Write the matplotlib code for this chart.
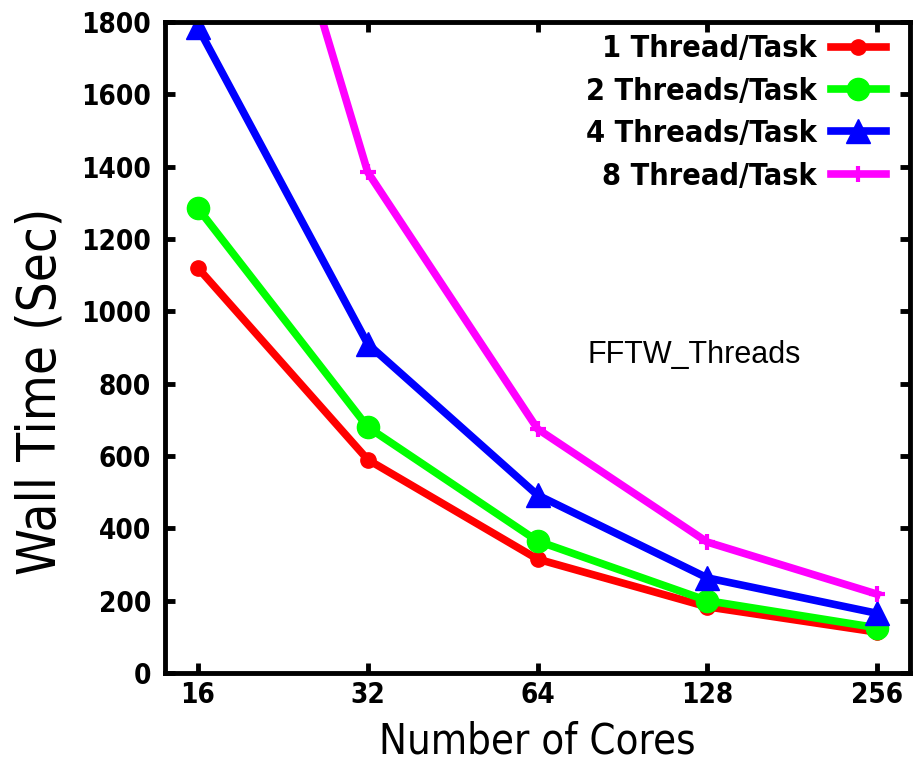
import numpy as np
import matplotlib
matplotlib.use('Agg')
import matplotlib.pyplot as plt
from matplotlib import font_manager

plt.rcParams['font.family'] = ['DejaVu Sans']

cores = [16, 32, 64, 128, 256]
one_thread = [1120, 590, 315, 183, 113]
two_threads = [1285, 680, 365, 200, 125]
four_threads = [1785, 910, 492, 263, 165]
eight_threads = [2950, 1385, 675, 362, 218]

labels = ['1 Thread/Task', '2 Threads/Task', '4 Threads/Task', '8 Thread/Task']
yticks = list(range(0, 1801, 200))


def cond(size, weight='normal'):
    return font_manager.FontProperties(family='DejaVu Sans', stretch='condensed',
                                       weight=weight, size=size)


fig = plt.figure(figsize=(9.23, 7.68), dpi=100)
ax = fig.add_axes([165 / 923, 1 - 673 / 768, 745 / 923, 651 / 768])

ax.plot(cores, one_thread, color='#ff0000', lw=5.5, marker='o', ms=11, label=labels[0])
ax.plot(cores, two_threads, color='#00ff00', lw=5.5, marker='o', ms=16, label=labels[1])
ax.plot(cores, four_threads, color='#0000ff', lw=5.5, marker='^', ms=17, label=labels[2])
ax.plot(cores, eight_threads, color='#ff00ff', lw=5.5, marker='+', ms=12, mew=3, label=labels[3])

ax.set_xscale('log', base=2)
ax.set_xlim(2 ** (4 - 0.194), 2 ** (8 + 0.194))
ax.set_ylim(0, 1800)
ax.set_xticks(cores)
ax.set_xticklabels([str(c) for c in cores])
ax.xaxis.set_minor_locator(matplotlib.ticker.NullLocator())
ax.set_yticks(yticks)
ax.set_yticklabels([str(v) for v in yticks])

for s in ax.spines.values():
    s.set_linewidth(3.5)
ax.tick_params(direction='in', length=7, width=3.5, top=True, right=True)
ax.tick_params(axis='y', pad=10)
ax.tick_params(axis='x', pad=6)
for t in ax.get_xticklabels() + ax.get_yticklabels():
    t.set_fontproperties(cond(20, 'bold'))

ax.set_xlabel('Number of Cores', labelpad=8, fontproperties=cond(30))
ax.set_ylabel('Wall Time (Sec)', fontproperties=cond(38))
ax.yaxis.set_label_coords(-0.132, 0.432)

ax.text(588, 768 - 355, 'FFTW_Threads', transform=None, fontsize=22,
        family='Liberation Sans', va='center', ha='left')

leg = ax.legend(loc='upper right', bbox_to_anchor=(1 - 12 / 745, 1),
                frameon=False, markerfirst=False, prop=cond(22, 'bold'),
                handlelength=1.8, labelspacing=0.44, borderaxespad=0.0,
                handletextpad=0.45)

fig.savefig('out.png', dpi=100)
